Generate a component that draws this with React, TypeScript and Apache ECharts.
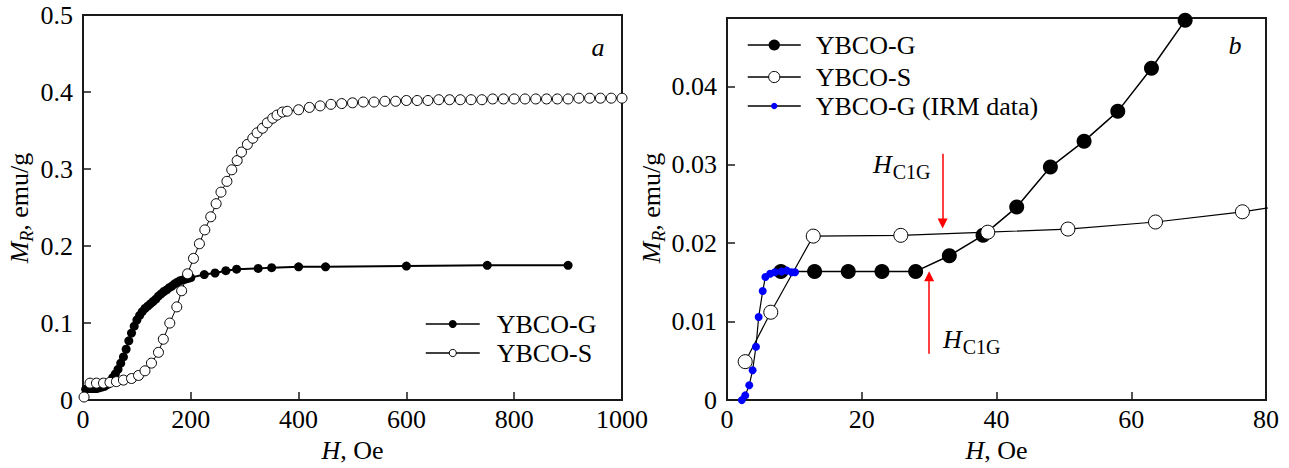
import React, { useEffect, useRef } from "react";
import * as echarts from "echarts";

const FONT = "Liberation Serif";
const INK = "#1a1a1a";

// Panel a: remanent magnetization vs field (H in Oe, M in emu/g)
const leftG: [number, number][] = [
  [5, 0.014], [10, 0.015], [15, 0.015], [20, 0.015], [25, 0.015], [30, 0.016], [35, 0.017], [40, 0.018],
  [45, 0.020], [50, 0.024], [55, 0.029], [60, 0.034], [65, 0.040], [70, 0.048], [75, 0.056], [80, 0.066],
  [85, 0.077], [90, 0.087], [95, 0.096], [100, 0.104], [105, 0.110], [110, 0.115], [115, 0.119], [120, 0.122],
  [125, 0.125], [130, 0.128], [135, 0.131], [140, 0.135], [145, 0.138], [150, 0.141], [155, 0.143], [160, 0.146],
  [165, 0.148], [170, 0.151], [175, 0.153], [180, 0.155], [185, 0.156], [190, 0.157], [195, 0.158], [200, 0.159],
  [225, 0.163], [245, 0.165], [265, 0.168], [285, 0.170], [325, 0.171], [350, 0.172], [400, 0.173], [450, 0.173],
  [600, 0.174], [750, 0.175], [900, 0.175],
];

const leftS: [number, number][] = [
  [2, 0.004], [13, 0.022], [25, 0.022], [38, 0.022], [50, 0.023], [62, 0.024], [75, 0.026], [90, 0.028],
  [103, 0.032], [115, 0.038], [127, 0.048], [140, 0.062], [149, 0.079], [161, 0.100], [174, 0.121], [183, 0.142],
  [194, 0.164], [205, 0.184], [216, 0.203], [226, 0.221], [237, 0.238], [247, 0.255], [256, 0.270], [267, 0.284],
  [276, 0.299], [286, 0.311], [294, 0.322], [305, 0.332], [315, 0.340], [323, 0.347], [333, 0.353], [342, 0.360],
  [352, 0.366], [360, 0.370], [370, 0.374], [379, 0.375], [400, 0.377], [420, 0.380], [440, 0.382], [460, 0.384],
  [480, 0.385], [500, 0.386], [520, 0.387], [540, 0.387], [560, 0.388], [580, 0.388], [600, 0.389], [620, 0.389],
  [640, 0.389], [660, 0.390], [680, 0.390], [700, 0.390], [720, 0.390], [740, 0.390], [760, 0.391], [780, 0.391],
  [800, 0.391], [820, 0.391], [840, 0.391], [860, 0.391], [880, 0.391], [900, 0.391], [920, 0.392], [940, 0.392],
  [960, 0.392], [980, 0.392], [1000, 0.392],
];

// Panel b
const rightG: [number, number][] = [
  [8, 0.0164], [13, 0.0164], [18, 0.0164], [23, 0.0164], [28, 0.0164], [33, 0.0184], [38, 0.021],
  [43, 0.0246], [48, 0.0297], [53, 0.033], [58, 0.0368], [63, 0.0423], [68, 0.0484],
];

const rightS: [number, number][] = [
  [2.7, 0.0049], [6.5, 0.0112], [12.8, 0.0209], [25.8, 0.021], [38.7, 0.0214], [50.6, 0.0218],
  [63.6, 0.0227], [76.5, 0.024], [89.5, 0.0257],
];

const rightIRM: [number, number][] = [
  [2.2, 0.0], [2.7, 0.0006], [3.3, 0.0019], [3.8, 0.0038], [4.3, 0.0068], [4.7, 0.0106], [5.3, 0.0139],
  [5.7, 0.0157], [6.4, 0.0161], [7.1, 0.0163], [8.1, 0.0164], [8.9, 0.0165], [9.6, 0.0163], [10.1, 0.0163],
];

// H_C1G marker arrows (start, end) in data coordinates
const arrowDown: [number, number][] = [[32, 0.0314], [32, 0.0225]];
const arrowUp: [number, number][] = [[30, 0.0059], [30, 0.0158]];

const leftXAxis = { min: 0, max: 1000, interval: 200 };
const leftYAxis = { min: 0, max: 0.5, interval: 0.1 };
const rightXAxis = { min: 0, max: 80, interval: 20 };
const rightYAxis = { min: 0, max: 0.0487, interval: 0.01 };

const seriesNames = { g: "YBCO-G", s: "YBCO-S", irm: "YBCO-G (IRM data)" };

const axisCommon = {
  type: "value" as const,
  axisLine: { show: true, onZero: false, lineStyle: { color: INK, width: 2 } },
  axisTick: { show: true, inside: true, length: 8, lineStyle: { color: INK, width: 1.5 } },
  splitLine: { show: false },
};

const labelStyle = { color: "#000", fontSize: 26, fontFamily: FONT };

function fmt(v: number) {
  return String(Math.round(v * 1000) / 1000);
}

function xAxisFor(gridIndex: number, range: { min: number; max: number; interval: number }) {
  return {
    ...axisCommon,
    gridIndex,
    ...range,
    axisLabel: { ...labelStyle, margin: 6, formatter: fmt },
    name: "{i|H}{n|, Oe}",
    nameLocation: "middle",
    nameGap: 27,
    nameTextStyle: {
      color: "#000",
      fontSize: 26,
      fontFamily: FONT,
      rich: {
        i: { fontStyle: "italic", fontSize: 26, fontFamily: FONT, color: "#000" },
        n: { fontSize: 26, fontFamily: FONT, color: "#000" },
      },
    },
  };
}

function yAxisFor(gridIndex: number, range: { min: number; max: number; interval: number }, hideMax: boolean) {
  return {
    ...axisCommon,
    gridIndex,
    ...range,
    axisLabel: { ...labelStyle, margin: 10, showMaxLabel: hideMax ? false : true, formatter: fmt },
  };
}

function yTitle(x: number, y: number) {
  return {
    type: "text",
    x,
    y,
    rotation: Math.PI / 2,
    style: {
      text: "{m|M}{r|R}{n|, emu/g}",
      align: "center",
      verticalAlign: "middle",
      fill: "#000",
      fontSize: 26,
      fontFamily: FONT,
      rich: {
        m: { fontStyle: "italic", fontSize: 26, fontFamily: FONT, fill: "#000", verticalAlign: "top", lineHeight: 28 },
        r: { fontStyle: "italic", fontSize: 18, fontFamily: FONT, fill: "#000", verticalAlign: "top", padding: [11, 0, 0, 0] },
        n: { fontSize: 26, fontFamily: FONT, fill: "#000", verticalAlign: "top", lineHeight: 28 },
      },
    },
  };
}

function hcLabel(x: number, y: number) {
  return {
    type: "text",
    x,
    y,
    style: {
      text: "{h|H}{s|C1G}",
      align: "left",
      verticalAlign: "top",
      fill: "#000",
      fontSize: 26,
      fontFamily: FONT,
      rich: {
        h: { fontStyle: "italic", fontSize: 26, fontFamily: FONT, fill: "#000", verticalAlign: "top", lineHeight: 28 },
        s: { fontSize: 20, fontFamily: FONT, fill: "#000", verticalAlign: "top", padding: [11, 0, 0, 1] },
      },
    },
  };
}

function legendFor(name: string, left: number, top: number, itemWidth: number, itemHeight: number, gap: number) {
  return {
    data: [name],
    left,
    top,
    padding: 0,
    itemWidth,
    itemHeight,
    selectedMode: false,
    itemStyle: { borderWidth: 1 },
    lineStyle: { width: 1.5 },
    textStyle: { color: "#000", fontSize: 26, fontFamily: FONT, padding: [0, 0, 0, gap] },
  };
}

export default function App() {
  const ref = useRef<HTMLDivElement>(null);

  useEffect(() => {
    if (!ref.current) return;
    const chart = echarts.init(ref.current, undefined, { renderer: "svg" });

    const filled = { color: "#000" };
    const open = { color: "#fff", borderColor: "#000", borderWidth: 1 };

    chart.setOption({
      animation: false,
      backgroundColor: "#fff",
      textStyle: { fontFamily: FONT },
      grid: [
        { left: 83, top: 15, width: 539, height: 390, show: true, borderColor: INK, borderWidth: 2, backgroundColor: "transparent" },
        { left: 727, top: 18, width: 539, height: 385, show: true, borderColor: INK, borderWidth: 2, backgroundColor: "transparent" },
      ],
      xAxis: [xAxisFor(0, leftXAxis), xAxisFor(1, rightXAxis)],
      yAxis: [yAxisFor(0, leftYAxis, false), yAxisFor(1, rightYAxis, true)],
      legend: [
        legendFor(seriesNames.g, 425, 311, 54, 10, 12),
        legendFor(seriesNames.s, 425, 340, 54, 9, 12),
        legendFor(seriesNames.g, 747, 32, 53, 14, 10),
        legendFor(seriesNames.s, 747, 64, 53, 14, 10),
        legendFor(seriesNames.irm, 747, 93, 53, 8, 10),
      ],
      series: [
        {
          type: "line",
          name: seriesNames.g,
          xAxisIndex: 0,
          yAxisIndex: 0,
          data: leftG,
          symbol: "circle",
          symbolSize: 9,
          showAllSymbol: true,
          itemStyle: filled,
          lineStyle: { color: "#000", width: 2 },
        },
        {
          type: "line",
          name: seriesNames.s,
          xAxisIndex: 0,
          yAxisIndex: 0,
          data: leftS,
          symbol: "circle",
          symbolSize: 10,
          showAllSymbol: true,
          itemStyle: open,
          lineStyle: { color: "#000", width: 1 },
        },
        {
          type: "line",
          name: seriesNames.g,
          xAxisIndex: 1,
          yAxisIndex: 1,
          data: rightG,
          symbol: "circle",
          symbolSize: 15,
          showAllSymbol: true,
          itemStyle: filled,
          lineStyle: { color: "#000", width: 1.5 },
          markLine: {
            silent: true,
            animation: false,
            symbol: ["none", "triangle"],
            symbolSize: 10,
            label: { show: false },
            lineStyle: { color: "#ff0000", width: 1.5, type: "solid" },
            emphasis: { disabled: true },
            data: [
              [{ coord: arrowDown[0] }, { coord: arrowDown[1] }],
              [{ coord: arrowUp[0] }, { coord: arrowUp[1] }],
            ],
          },
        },
        {
          type: "line",
          name: seriesNames.irm,
          xAxisIndex: 1,
          yAxisIndex: 1,
          data: rightIRM,
          symbol: "circle",
          symbolSize: 8,
          showAllSymbol: true,
          itemStyle: { color: "#0000ff" },
          lineStyle: { color: "#000", width: 1.2 },
        },
        {
          type: "line",
          name: seriesNames.s,
          xAxisIndex: 1,
          yAxisIndex: 1,
          data: rightS,
          symbol: "circle",
          symbolSize: 14,
          showAllSymbol: true,
          itemStyle: open,
          lineStyle: { color: "#000", width: 1.2 },
        },
      ],
      graphic: [
        yTitle(21, 208),
        yTitle(653, 208),
        {
          type: "text",
          x: 598,
          y: 47,
          style: { text: "a", fontStyle: "italic", fontSize: 26, fontFamily: FONT, fill: "#000", align: "center", verticalAlign: "middle" },
        },
        {
          type: "text",
          x: 1235,
          y: 45,
          style: { text: "b", fontStyle: "italic", fontSize: 26, fontFamily: FONT, fill: "#000", align: "center", verticalAlign: "middle" },
        },
        hcLabel(873, 151),
        hcLabel(943, 326),
      ],
    });

    return () => chart.dispose();
  }, []);

  return (
    <div
      ref={ref}
      style={{ position: "absolute", left: 0, top: 0, width: 1289, height: 468, background: "#fff" }}
    />
  );
}
